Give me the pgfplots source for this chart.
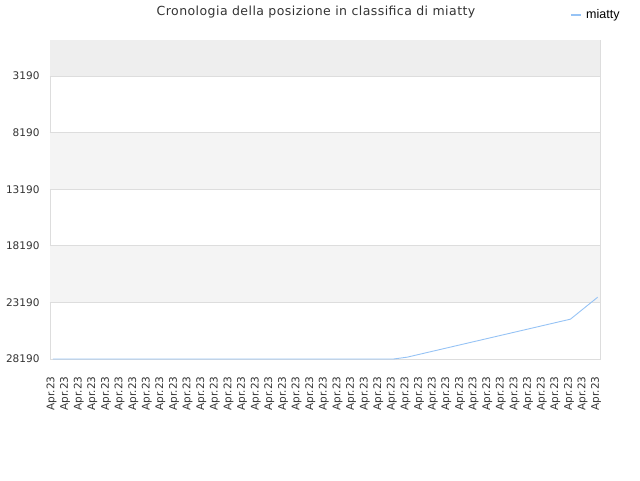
\documentclass[border=0pt]{standalone}
\usepackage{pgfplots}
\pgfplotsset{compat=1.18}
\usepackage{fontspec}
\setmainfont{DejaVu Sans}
\newfontfamily\legfont{Liberation Sans}
\newfontfamily\titlefont[LetterSpace=3.5]{DejaVu Sans}
\definecolor{linec}{RGB}{150,195,245}
\definecolor{bandA}{RGB}{238,238,238}
\definecolor{bandB}{RGB}{244,244,244}
\definecolor{gridc}{RGB}{221,221,221}
\definecolor{txt}{RGB}{51,51,51}
\begin{document}
\begin{tikzpicture}
\path[use as bounding box] (0pt,0pt) rectangle (640pt,480pt);
\begin{axis}[
  at={(50pt,121pt)}, anchor=south west,
  scale only axis, width=550pt, height=319pt,
  xmin=-0.22, xmax=40.17, ymin=10, ymax=28190, y dir=reverse,
  axis line style={draw=gridc},
  ytick={3190,8190,13190,18190,23190,28190},
  scaled y ticks=false,
  tick style={draw=none},
  /pgf/number format/assume math mode=true,
  /pgf/number format/1000 sep={},
  /pgf/number format/fixed, /pgf/number format/precision=0,
  yticklabel style={font=\fontsize{10.5}{12}\selectfont, text=txt, xshift=-7pt},
  xtick={0,...,40},
  xticklabel={Apr.23},
  xticklabel style={yshift=-14pt, xshift=-1.5pt, rotate=90, anchor=east, font=\fontsize{10.5}{12}\selectfont, text=txt},
  legend style={at={(axis description cs:0.9455,1.078)}, anchor=west, draw=none, fill=none, inner sep=0pt,
    font=\legfont\fontsize{12.5}{14}\selectfont, text=black, nodes={inner xsep=4.5pt}},
  legend image code/.code={\draw[linec, line width=1.5pt] (0pt,0pt) -- (10pt,0pt);},
]
\fill[bandA] (axis cs:-0.22,10) rectangle (axis cs:40.17,3190);
\fill[bandB] (axis cs:-0.22,8190) rectangle (axis cs:40.17,13190);
\fill[bandB] (axis cs:-0.22,18190) rectangle (axis cs:40.17,23190);
\draw[gridc, line width=0.8pt] (axis cs:-0.22,3190) -- (axis cs:40.17,3190);
\draw[gridc, line width=0.8pt] (axis cs:-0.22,8190) -- (axis cs:40.17,8190);
\draw[gridc, line width=0.8pt] (axis cs:-0.22,13190) -- (axis cs:40.17,13190);
\draw[gridc, line width=0.8pt] (axis cs:-0.22,18190) -- (axis cs:40.17,18190);
\draw[gridc, line width=0.8pt] (axis cs:-0.22,23190) -- (axis cs:40.17,23190);
\addplot[linec, line width=0.9pt, mark=none] coordinates {
(0,28190)(1,28190)(2,28190)(3,28190)(4,28190)(5,28190)(6,28190)(7,28190)(8,28190)(9,28190)
(10,28190)(11,28190)(12,28190)(13,28190)(14,28190)(15,28190)(16,28190)(17,28190)(18,28190)(19,28190)
(20,28190)(21,28190)(22,28190)(23,28190)(24,28190)(25,28190)
(26,28030)(27,27750)(28,27470)(29,27190)(30,26910)(31,26630)(32,26350)(33,26070)(34,25790)(35,25510)
(36,25230)(37,24950)(38,24670)(39,23700)(40,22730)
};
\addlegendentry{miatty}
\end{axis}
\node[font=\titlefont\fontsize{12.5}{14}\selectfont, text=txt] at (316pt,468pt) {Cronologia della posizione in classifica di miatty};
\end{tikzpicture}
\end{document}
